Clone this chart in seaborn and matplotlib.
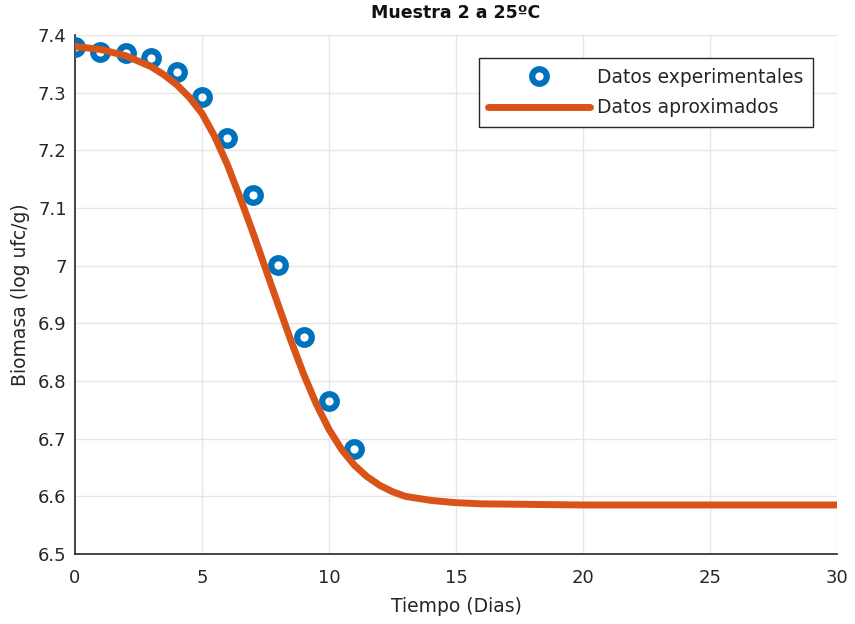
import matplotlib
matplotlib.use("Agg")
import matplotlib.pyplot as plt
import seaborn as sns
import pandas as pd

# Experimental biomass measurements (log ufc/g) per day
dias_exp = [0, 1, 2, 3, 4, 5, 6, 7, 8, 9, 10, 11]
biomasa_exp = [7.380, 7.370, 7.368, 7.360, 7.335, 7.292, 7.222, 7.123, 7.002, 6.876, 6.765, 6.682]

# Fitted curve values
dias_ajuste = [0, 1, 2, 3, 3.5, 4, 4.5, 5, 5.5, 6, 6.5, 7, 7.5, 8, 8.5, 9, 9.5, 10,
               10.5, 11, 11.5, 12, 12.5, 13, 14, 15, 16, 18, 20, 25, 30]
biomasa_ajuste = [7.380, 7.375, 7.364, 7.345, 7.331, 7.314, 7.292, 7.264, 7.224, 7.175,
                  7.118, 7.058, 6.995, 6.932, 6.870, 6.812, 6.760, 6.716, 6.681, 6.654,
                  6.634, 6.619, 6.608, 6.600, 6.593, 6.589, 6.587, 6.586, 6.585, 6.585, 6.585]

x_ticks = [0, 5, 10, 15, 20, 25, 30]
y_ticks = [6.5, 6.6, 6.7, 6.8, 6.9, 7.0, 7.1, 7.2, 7.3, 7.4]
y_ticklabels = ["6.5", "6.6", "6.7", "6.8", "6.9", "7", "7.1", "7.2", "7.3", "7.4"]

sns.set_theme(style="white")
plt.rcParams["font.family"] = ["DejaVu Sans"]

df_fit = pd.DataFrame({"Tiempo": dias_ajuste, "Biomasa": biomasa_ajuste})

W, H = 855, 624
fig = plt.figure(figsize=(W / 100, H / 100), dpi=100)
ax = fig.add_axes([75 / W, (H - 554) / H, (837 - 75) / W, (554 - 35) / H])

azul = "#0072BD"
naranja = "#D95319"
gris = "#262626"

ax.plot(dias_exp, biomasa_exp, linestyle="none", marker="o", markersize=10.5,
        markerfacecolor="none", markeredgecolor=azul, markeredgewidth=4.5,
        label="Datos experimentales", zorder=3)
sns.lineplot(data=df_fit, x="Tiempo", y="Biomasa", ax=ax, color=naranja,
             linewidth=5, label="Datos aproximados", zorder=4)

ax.set_xlim(0, 30)
ax.set_ylim(6.5, 7.4)
ax.set_xticks(x_ticks)
ax.set_yticks(y_ticks)
ax.set_yticklabels(y_ticklabels)

ax.grid(True, color="#e6e6e6", linewidth=1.0)
ax.set_axisbelow(True)
for s in ("top", "right"):
    ax.spines[s].set_visible(False)
for s in ("left", "bottom"):
    ax.spines[s].set_color(gris)
    ax.spines[s].set_linewidth(1.2)

ax.tick_params(axis="both", direction="in", length=4, width=1, color=gris,
               labelsize=13, labelcolor=gris)
ax.tick_params(axis="x", pad=11)
ax.tick_params(axis="y", pad=6)

ax.set_xlabel("Tiempo (Dias)", fontsize=13.5, color=gris, labelpad=7)
ax.set_ylabel("Biomasa (log ufc/g)", fontsize=13.5, color=gris, labelpad=6)
ax.set_title("Muestra 2 a 25ºC", fontsize=12.5, fontweight="bold", color="#111111", pad=12)

leg = ax.legend(loc="upper right", bbox_to_anchor=(0.9685, 0.955), fontsize=13.5,
                frameon=True, fancybox=False, edgecolor=gris, framealpha=1,
                handlelength=5.4, handletextpad=0.4, borderpad=0.5, labelspacing=0.62,
                borderaxespad=0)
leg.get_frame().set_linewidth(1.0)
for t in leg.get_texts():
    t.set_color(gris)

fig.savefig("out.png", dpi=100)
